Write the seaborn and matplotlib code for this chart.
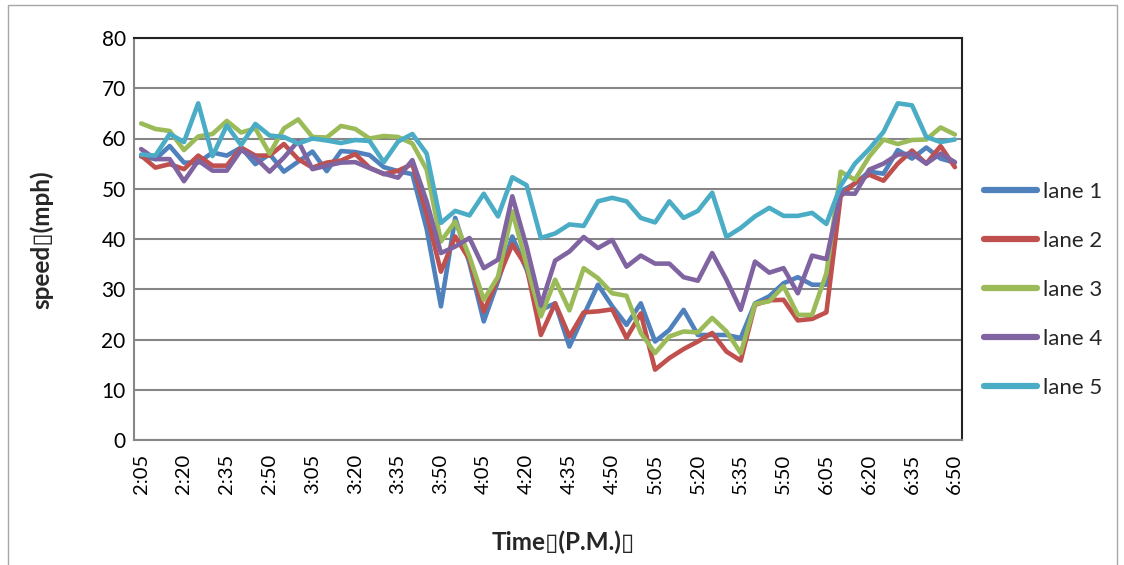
import matplotlib
matplotlib.use("Agg")
import matplotlib.pyplot as plt
import seaborn as sns
import pandas as pd
from matplotlib.patches import Rectangle

# ---- data ----
times = [f"{(125 + 5 * k) // 60}:{(125 + 5 * k) % 60:02d}" for k in range(58)]

lane1 = [56.4, 55.9, 58.5, 55.2, 55.2, 57.2, 56.6, 58.2, 54.9, 56.9,
         53.4, 55.4, 57.4, 53.5, 57.5, 57.3, 56.7, 54.3, 53.5, 52.9,
         42.0, 26.6, 44.2, 35.2, 23.6, 31.6, 40.5, 33.9, 25.9, 27.2,
         18.6, 24.8, 30.9, 26.6, 22.9, 27.2, 19.6, 21.9, 25.9, 20.9,
         20.9, 20.9, 20.3, 27.2, 28.6, 31.2, 32.4, 30.9, 30.9, 49.5,
         51.0, 53.4, 53.0, 57.7, 56.0, 58.2, 56.0, 55.2]
lane2 = [56.6, 54.2, 54.9, 53.9, 56.6, 54.6, 54.6, 58.2, 56.6, 56.6,
         58.9, 55.9, 54.2, 55.2, 55.6, 56.9, 54.2, 52.9, 53.6, 54.9,
         45.0, 33.5, 40.5, 35.9, 25.6, 32.2, 38.9, 34.5, 20.9, 27.2,
         20.6, 25.4, 25.6, 26.0, 20.3, 25.2, 14.0, 16.3, 18.1, 19.6,
         21.3, 17.6, 15.8, 26.9, 27.8, 27.9, 23.8, 24.1, 25.4, 48.5,
         51.2, 52.8, 51.6, 55.0, 57.6, 55.0, 58.5, 54.3]
lane3 = [63.0, 61.9, 61.5, 57.7, 60.4, 60.9, 63.5, 61.2, 62.0, 57.0,
         62.0, 63.8, 60.3, 60.2, 62.5, 61.9, 60.0, 60.5, 60.3, 59.0,
         53.8, 39.5, 43.5, 36.5, 27.9, 32.5, 45.5, 34.9, 24.6, 31.9,
         25.8, 34.2, 32.2, 29.2, 28.7, 21.3, 17.3, 20.6, 21.6, 21.4,
         24.3, 21.6, 17.3, 27.1, 27.6, 30.6, 24.9, 24.9, 33.2, 53.4,
         51.8, 56.4, 59.8, 58.9, 59.7, 59.8, 62.2, 60.8]
lane4 = [57.9, 55.9, 55.9, 51.5, 55.6, 53.6, 53.6, 57.7, 56.2, 53.4,
         56.2, 59.5, 53.9, 54.6, 55.2, 55.3, 54.1, 53.0, 52.2, 55.7,
         47.5, 37.2, 38.5, 40.2, 34.2, 35.9, 48.5, 38.5, 26.8, 35.7,
         37.5, 40.4, 38.2, 39.8, 34.5, 36.7, 35.1, 35.1, 32.4, 31.7,
         37.2, 31.9, 25.9, 35.5, 33.3, 34.2, 29.2, 36.7, 36.0, 49.1,
         49.0, 53.8, 55.0, 56.8, 57.0, 55.0, 57.0, 55.3]
lane5 = [56.8, 56.6, 60.9, 59.3, 67.0, 56.5, 62.6, 58.7, 62.9, 60.6,
         60.3, 59.0, 60.0, 59.6, 59.1, 59.7, 59.5, 55.3, 59.4, 60.9,
         57.0, 43.2, 45.6, 44.7, 49.0, 44.5, 52.3, 50.7, 40.2, 41.1,
         42.9, 42.6, 47.5, 48.2, 47.5, 44.2, 43.3, 47.5, 44.2, 45.6,
         49.2, 40.4, 42.2, 44.5, 46.2, 44.6, 44.6, 45.2, 43.0, 50.6,
         55.0, 57.9, 61.3, 67.0, 66.6, 60.3, 59.3, 59.8]

lane_names = ["lane 1", "lane 2", "lane 3", "lane 4", "lane 5"]
lane_colors = ["#4F81BD", "#C0504D", "#9BBB59", "#8064A2", "#4BACC6"]
y_ticks = [0, 10, 20, 30, 40, 50, 60, 70, 80]

series = [lane1, lane2, lane3, lane4, lane5]
rows = []
for name, vals in zip(lane_names, series):
    for k, v in enumerate(vals):
        rows.append({"pos": k, "time": times[k], "lane": name, "speed": v})
df = pd.DataFrame(rows)

# ---- figure ----
sns.set_theme(style="white")
plt.rcParams["font.family"] = ["Lato", "DejaVu Sans"]

W, H = 1124, 565
fig = plt.figure(figsize=(W / 100, H / 100), dpi=100)
ax = fig.add_axes([134 / W, 1 - 440 / H, (962 - 134) / W, (440 - 38) / H])

sns.lineplot(data=df, x="pos", y="speed", hue="lane", palette=lane_colors,
             hue_order=lane_names, linewidth=3.3, ax=ax, legend=True,
             solid_capstyle="round", solid_joinstyle="round")

ax.set_xlim(-0.5, len(times) - 0.5)
ax.set_ylim(0, 80)
ax.set_yticks(y_ticks)
ax.set_yticklabels([str(t) for t in y_ticks], fontsize=15, color="black")
tick_pos = list(range(0, len(times), 3))
ax.set_xticks(tick_pos)
ax.set_xticklabels([times[p] for p in tick_pos], rotation=90, fontsize=14.5,
                   color="black")
ax.tick_params(axis="both", length=0, pad=6)
ax.tick_params(axis="x", pad=10)

ax.yaxis.grid(True, color="#868686", linewidth=1.5)
ax.xaxis.grid(False)
ax.set_axisbelow(True)
for side in ["left", "bottom"]:
    ax.spines[side].set_color("#868686")
    ax.spines[side].set_linewidth(1.5)
for side in ["top", "right"]:
    ax.spines[side].set_color("#222222")
    ax.spines[side].set_linewidth(1.5)

ax.set_xlabel("")
ax.set_ylabel("")
fig.text(42 / W, 1 - 240 / H, "speed\u25af(mph)", rotation=90, ha="center",
         va="center", fontsize=17.5, fontweight="bold",
         family=["Lato", "DejaVu Sans"])
fig.text(563 / W, 1 - 542 / H, "Time\u25af(P.M.)\u25af", ha="center",
         va="center", fontsize=17.5, fontweight="bold",
         family=["Lato", "DejaVu Sans"])

handles, labels = ax.get_legend_handles_labels()
ax.legend_.remove()
leg = fig.legend(handles, labels, loc="center left",
                 bbox_to_anchor=(975 / W, 1 - 290 / H), frameon=False,
                 fontsize=16, handlelength=2.4, handletextpad=0.25,
                 labelspacing=1.3, borderaxespad=0)
for line in leg.get_lines():
    line.set_linewidth(4.5)
    line.set_solid_capstyle("round")

fig.patches.append(Rectangle((8 / W, -0.01), (1117 - 8) / W, 1.01 - 5 / H,
                             transform=fig.transFigure, fill=False,
                             edgecolor="#a6a6a6", linewidth=1.0))

fig.savefig("out.png", dpi=100)
